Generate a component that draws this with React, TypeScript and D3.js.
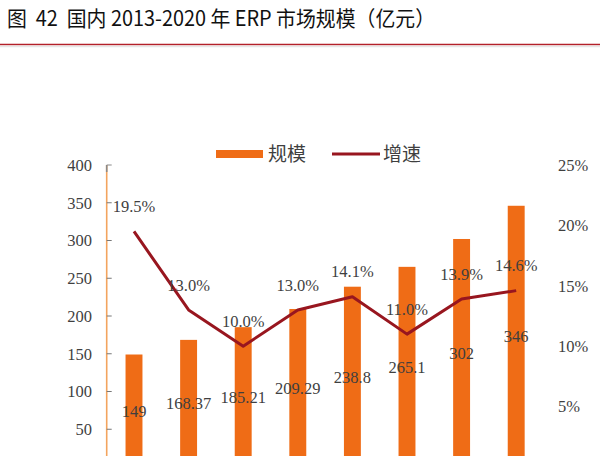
import React from "react";
import * as d3 from "d3";

const years = ["2013", "2014", "2015", "2016", "2017", "2018", "2019", "2020"];
const marketSize = [149, 168.37, 185.21, 209.29, 238.8, 265.1, 302, 346];
const growthRate = [19.5, 13.0, 10.0, 13.0, 14.1, 11.0, 13.9, 14.6];
const leftTicks = [0, 50, 100, 150, 200, 250, 300, 350, 400];
const rightTicks = [0, 5, 10, 15, 20, 25];
const seriesNames = ["规模", "增速"];
const title = "图  42  国内 2013-2020 年 ERP 市场规模（亿元）";

const W = 600;
const H = 456;
const BAR = "#EF6C16";
const LINE = "#98161F";
const AXIS = "#F3A45E";
const TXT = "#3f3f3f";
const SERIF = "'Liberation Serif', 'DejaVu Serif', serif";
const CJK = "'Noto Sans CJK SC', sans-serif";

export default function App() {
  const x = d3.scaleBand<string>().domain(years).range([106.7, 543.5]).padding(0);
  const y = d3.scaleLinear().domain([0, 400]).range([467, 165]);
  const y2 = d3.scaleLinear().domain([0, 25]).range([467, 165]);
  const bw = x.bandwidth() * 0.31;
  const cx = (i: number) => (x(years[i]) as number) + x.bandwidth() / 2;

  const line = d3
    .line<number>()
    .x((_, i) => cx(i))
    .y((d) => y2(d));

  const visible = (py: number) => py + 6 < H;

  return (
    <svg
      width={W}
      height={H}
      style={{ position: "absolute", left: 0, top: 0, background: "#fff" }}
    >
      <rect x={0} y={0} width={W} height={H} fill="#fff" />
      {/* title */}
      <text x={7} y={26} fontFamily={CJK} fontSize={21} fill="#111" xmlSpace="preserve" textLength={428} lengthAdjust="spacingAndGlyphs">
        {title}
      </text>
      <line x1={0} x2={W} y1={44.5} y2={44.5} stroke="#B3202A" strokeWidth={1.6} />
      <line x1={0} x2={W} y1={46.5} y2={46.5} stroke="#e6e6e6" strokeWidth={1.5} />

      {/* left axis */}
      <line x1={x.range()[0]} x2={x.range()[0]} y1={y(400)} y2={H} stroke={AXIS} strokeWidth={1.6} />
      <line x1={x.range()[0]} x2={x.range()[0]} y1={y(400)} y2={y(400) + 7} stroke="#8a8a8a" strokeWidth={1.6} />
      {leftTicks.filter((t) => visible(y(t))).map((t) => (
        <g key={t}>
          <line x1={x.range()[0]} x2={x.range()[0] + 5} y1={y(t)} y2={y(t)} stroke={t === 400 ? "#8a8a8a" : "#777"} strokeWidth={1} />
          <text x={92} y={y(t)} dy="0.35em" textAnchor="end" fontFamily={SERIF} fontSize={16.5} fill={TXT}>
            {t}
          </text>
        </g>
      ))}

      {/* right axis labels */}
      {rightTicks.filter((t) => visible(y2(t))).map((t) => (
        <text key={t} x={558} y={y2(t)} dy="0.35em" textAnchor="start" fontFamily={SERIF} fontSize={16.5} fill={TXT}>
          {t + "%"}
        </text>
      ))}

      {/* bars */}
      {marketSize.map((v, i) => (
        <rect key={years[i]} x={cx(i) - bw / 2} y={y(v)} width={bw} height={y(0) - y(v)} fill={BAR} />
      ))}

      {/* line */}
      <path d={line(growthRate) || ""} fill="none" stroke={LINE} strokeWidth={3} strokeLinejoin="round" />

      {/* bar labels */}
      {marketSize.map((v, i) => (
        <text key={"b" + i} x={cx(i)} y={(y(v) + y(0)) / 2} dy="0.35em" textAnchor="middle" fontFamily={SERIF} fontSize={16.5} fill={TXT}>
          {String(v)}
        </text>
      ))}

      {/* line labels */}
      {growthRate.map((v, i) => (
        <text key={"g" + i} x={cx(i)} y={y2(v) - 25} dy="0.35em" textAnchor="middle" fontFamily={SERIF} fontSize={16.5} fill={TXT}>
          {v.toFixed(1) + "%"}
        </text>
      ))}

      {/* legend */}
      <rect x={216} y={150} width={47} height={8} fill={BAR} />
      <text x={268} y={154} dy="0.35em" fontFamily={CJK} fontSize={19} fill={TXT}>
        {seriesNames[0]}
      </text>
      <line x1={332} x2={380} y1={154} y2={154} stroke={LINE} strokeWidth={3} />
      <text x={383} y={154} dy="0.35em" fontFamily={CJK} fontSize={19} fill={TXT}>
        {seriesNames[1]}
      </text>
    </svg>
  );
}
